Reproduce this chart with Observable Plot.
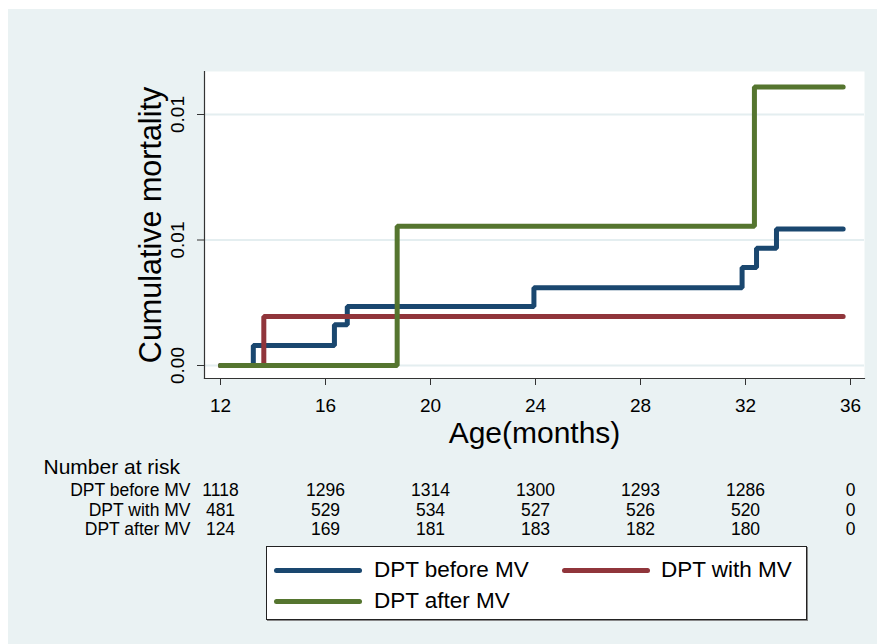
<!DOCTYPE html>
<html>
<head>
<meta charset="utf-8">
<script src="https://cdn.jsdelivr.net/npm/d3@7"></script>
<script src="https://cdn.jsdelivr.net/npm/@observablehq/plot@0.6"></script>
<style>
  html, body { margin: 0; padding: 0; background: #ffffff; }
  body { width: 877px; height: 644px; position: relative; overflow: hidden;
         font-family: "Liberation Sans", Arial, Helvetica, sans-serif; }
  #chart { position: absolute; left: 8px; top: 9px; }
  #legend { position: absolute; left: 266px; top: 546px; width: 539px; height: 72px;
            background: #ffffff; border: 1px solid #222; box-shadow: 1px 1px 0 #888; }
  .sw { position: absolute; height: 5px; border-radius: 3px; }
  .lt { position: absolute; font-size: 22.5px; line-height: 1; color: #000; white-space: nowrap; }
</style>
</head>
<body>
<div id="chart"></div>
<div id="legend"></div>
<script>
// ---- data ----
const seriesNames = ["DPT before MV", "DPT with MV", "DPT after MV"];
const seriesColors = ["#1a476f", "#90353b", "#55752f"];

const beforeTimes = [12, 13.25, 16.34, 16.83, 23.94, 31.87, 32.42, 33.18, 35.72];
const beforeValues = [0, 0.0008, 0.00162, 0.00235, 0.0031, 0.0039, 0.00467, 0.00544, 0.00544];
const withTimes = [12, 13.65, 35.72];
const withValues = [0, 0.00195, 0.00195];
const afterTimes = [12, 18.73, 32.34, 35.72];
const afterValues = [0, 0.00555, 0.0111, 0.0111];

const xTicks = [12, 16, 20, 24, 28, 32, 36];
const yTicks = [0, 0.005, 0.01];
const yTickLabels = ["0.00", "0.01", "0.01"];

const riskBefore = [1118, 1296, 1314, 1300, 1293, 1286, 0];
const riskWith = [481, 529, 534, 527, 526, 520, 0];
const riskAfter = [124, 169, 181, 183, 182, 180, 0];

// ---- build tables ----
const steps = [];
[[beforeTimes, beforeValues], [withTimes, withValues], [afterTimes, afterValues]].forEach(([t, v], s) => {
  t.forEach((ti, i) => steps.push({series: seriesNames[s], age: ti, value: v[i]}));
});
const riskRows = [riskBefore, riskWith, riskAfter];
const risk = [];
riskRows.forEach((row, r) => row.forEach((n, i) => risk.push({row: r, age: xTicks[i], n})));
const rowDy = [117, 137, 156];

const font = "Liberation Sans, Arial, Helvetica, sans-serif";

const plot = Plot.plot({
  width: 869,
  height: 635,
  marginLeft: 196,
  marginRight: 13,
  marginTop: 62,
  marginBottom: 266,
  style: {background: "#eaf2f3", fontFamily: font, overflow: "visible"},
  x: {domain: [12, 36], insetLeft: 16, insetRight: 14},
  y: {domain: [0, 0.01], insetTop: 43, insetBottom: 13},
  color: {domain: seriesNames, range: seriesColors},
  marks: [
    Plot.frame({fill: "#ffffff", stroke: null}),
    Plot.gridY(yTicks, {stroke: "#e4eef0", strokeOpacity: 1, strokeWidth: 2}),
    Plot.frame({anchor: "left", stroke: "#333", strokeWidth: 1.2}),
    Plot.frame({anchor: "bottom", stroke: "#333", strokeWidth: 1.2}),
    Plot.axisX(xTicks, {tickSize: 7, tickPadding: 13, fontSize: 19, label: null, stroke: "#333", fill: "#000"}),
    Plot.axisY(yTicks, {tickSize: 7, tickFormat: () => "", label: null, stroke: "#333"}),
    Plot.text(yTicks, {y: d => d, text: (d, i) => yTickLabels[i], frameAnchor: "left", dx: -26.5,
      rotate: -90, textAnchor: "middle", lineAnchor: "middle", fontSize: 19, fill: "#000"}),
    Plot.text(["Cumulative mortality"], {frameAnchor: "left", dx: -53, rotate: -90, textAnchor: "middle",
      lineAnchor: "middle", fontSize: 30.5, fill: "#000"}),
    Plot.text(["Age(months)"], {frameAnchor: "bottom", dy: 64, textAnchor: "middle", lineAnchor: "bottom",
      fontSize: 30, fill: "#000"}),
    Plot.line(steps, {x: "age", y: "value", z: "series", stroke: "series", strokeWidth: 5,
      curve: "step-after", strokeLinecap: "round", strokeLinejoin: "miter"}),
    // number at risk table
    Plot.text(["Number at risk"], {frameAnchor: "bottom-left", dx: -161, dy: 95, textAnchor: "start",
      lineAnchor: "bottom", fontSize: 21, fill: "#000"}),
    ...[0, 1, 2].map(r => Plot.text([seriesNames[r]], {frameAnchor: "bottom-left", dx: -14, dy: rowDy[r],
      textAnchor: "end", lineAnchor: "bottom", fontSize: 17.5, fill: "#000"})),
    ...[0, 1, 2].map(r => Plot.text(risk.filter(d => d.row === r), {x: "age", text: d => String(d.n),
      frameAnchor: "bottom", dy: rowDy[r], textAnchor: "middle", lineAnchor: "bottom", fontSize: 17.5, fill: "#000"}))
  ]
});
document.getElementById("chart").appendChild(plot);

// legend (HTML, over the chart background)
const legend = document.getElementById("legend");
const legendPos = [
  {line: [7, 21], text: [107, 12]},
  {line: [295, 21], text: [394, 12]},
  {line: [7, 52], text: [107, 43]}
];
seriesNames.forEach((name, i) => {
  const sw = document.createElement("div");
  sw.className = "sw";
  sw.style.left = legendPos[i].line[0] + "px";
  sw.style.top = legendPos[i].line[1] + "px";
  sw.style.width = "88px";
  sw.style.background = seriesColors[i];
  legend.appendChild(sw);
  const t = document.createElement("span");
  t.className = "lt";
  t.style.left = legendPos[i].text[0] + "px";
  t.style.top = legendPos[i].text[1] + "px";
  t.textContent = name;
  legend.appendChild(t);
});
</script>
</body>
</html>
